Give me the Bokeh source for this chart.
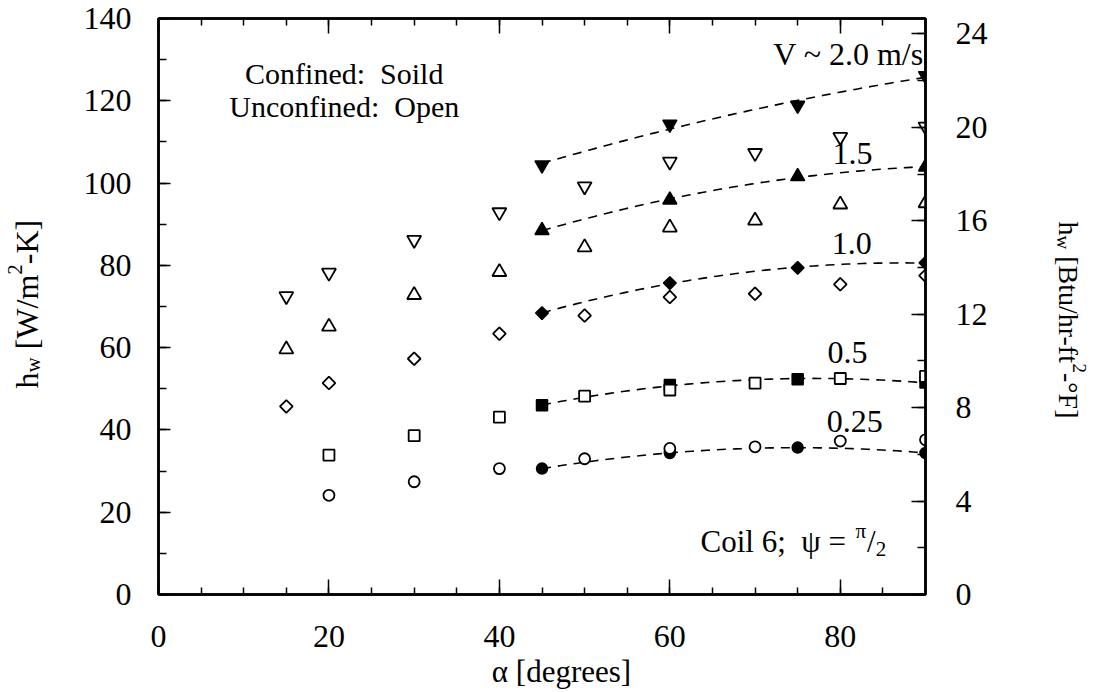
import numpy as np
from bokeh.plotting import figure
from bokeh.models import (Range1d, LinearAxis, Label, SingleIntervalTicker, GridBox,
                          CustomJSTickFormatter)
from bokeh.core.properties import value
from bokeh.embed import file_html
from bokeh.resources import INLINE

# ---- data: inclination angle alpha [deg] and h_w [W/m2-K] ----
alpha_open = [15, 20, 30, 40, 50, 60, 70, 80, 90]
alpha_open_low = [20, 30, 40, 50, 60, 70, 80, 90]
alpha_solid = [45, 60, 75, 90]

# unconfined coil (open symbols)
open_v200 = [72.5, 78.2, 86.2, 92.9, 99.2, 105.2, 107.3, 111.2, 113.7]
open_v150 = [59.6, 65.1, 72.8, 78.4, 84.4, 89.2, 90.9, 94.8, 95.1]
open_v100 = [45.7, 51.4, 57.3, 63.4, 67.8, 72.3, 73.1, 75.4, 77.5]
open_v050 = [33.9, 38.6, 43.1, 48.2, 49.7, 51.4, 52.5, 53.0]
open_v025 = [24.1, 27.4, 30.6, 33.0, 35.5, 35.9, 37.3, 37.6]

# confined coil (solid symbols)
solid_v200 = [104.4, 114.3, 118.9, 126.1]
solid_v150 = [88.5, 95.9, 101.6, 103.9]
solid_v100 = [68.4, 75.7, 79.4, 80.6]
solid_v050 = [46.0, 50.9, 52.3, 51.5]
solid_v025 = [30.6, 34.4, 35.7, 34.4]

velocity_labels = ["V ~ 2.0 m/s", "1.5", "1.0", "0.5", "0.25"]

W_PER_BTU = 5.678  # 1 Btu/hr-ft2-F in W/m2-K

# ---- layout ----
FONT = "Liberation Serif"
NB = "\u00a0"
W, H = 1093, 692
LEFT, RIGHT, TOP, BOTTOM = 158, 925, 18, 594
X0, X1, Y0, Y1 = 0, 90, 0, 140

p = figure(width=W, height=H, x_range=Range1d(X0, X1), y_range=Range1d(Y0, Y1),
           output_backend="svg", toolbar_location=None,
           min_border_left=LEFT, min_border_right=W - RIGHT,
           min_border_top=TOP, min_border_bottom=H - BOTTOM,
           background_fill_color="white", border_fill_color="white")
p.grid.visible = False
p.outline_line_color = "black"
p.outline_line_width = 2.5
p.extra_y_ranges = {"btu": Range1d(Y0 / W_PER_BTU, Y1 / W_PER_BTU)}


def style_axis(ax, major_in, minor_in):
    ax.axis_line_color = "black"
    ax.axis_line_width = 2.5
    ax.major_tick_in = major_in
    ax.major_tick_out = 0
    ax.minor_tick_in = minor_in
    ax.minor_tick_out = 0
    ax.major_tick_line_width = 1.5
    ax.minor_tick_line_width = 1.5
    ax.major_tick_line_color = "black"
    ax.minor_tick_line_color = "black"
    ax.major_label_text_font = FONT
    ax.major_label_text_font_size = "32px"
    ax.major_label_text_color = "black"


xa = p.xaxis[0]
xa.ticker = SingleIntervalTicker(interval=20, num_minor_ticks=4)
style_axis(xa, 15, 7)
xa.major_label_standoff = 31

ya = p.yaxis[0]
ya.ticker = SingleIntervalTicker(interval=20, num_minor_ticks=2)
style_axis(ya, 12, 8)
ya.major_label_standoff = 27

# top edge carries ticks only
top_axis = LinearAxis(ticker=SingleIntervalTicker(interval=20, num_minor_ticks=4),
                      formatter=CustomJSTickFormatter(code="return ''"))
style_axis(top_axis, 15, 7)
top_axis.major_label_text_font_size = "2px"
top_axis.major_label_standoff = 0
p.add_layout(top_axis, "above")

right_axis = LinearAxis(y_range_name="btu",
                        ticker=SingleIntervalTicker(interval=4, num_minor_ticks=2))
style_axis(right_axis, 14, 8)
right_axis.major_label_standoff = 30
p.add_layout(right_axis, "right")

# ---- fitted trend curves through the confined data ----
solid_sets = [solid_v200, solid_v150, solid_v100, solid_v050, solid_v025]
for vals in solid_sets:
    coef = np.polyfit(alpha_solid, vals, 2)
    xs = np.linspace(alpha_solid[0], alpha_solid[-1], 80)
    p.line(xs, np.polyval(coef, xs), line_color="black", line_width=1.6,
           line_dash="9 7")

# ---- symbols ----
markers = [
    ("inverted_triangle", 14, 0.0),
    ("triangle", 14, 0.0),
    ("square", 9, np.pi / 4),
    ("square", 11, 0.0),
    ("circle", 11, 0.0),
]
for (mk, sz, ang), vals in zip(markers, solid_sets):
    p.scatter(alpha_solid, vals, marker=mk, size=sz, angle=ang,
              fill_color="black", line_color="black", line_width=1.5)

open_sets = [(alpha_open, open_v200), (alpha_open, open_v150), (alpha_open, open_v100),
             (alpha_open_low, open_v050), (alpha_open_low, open_v025)]
for (mk, sz, ang), (xs, vals) in zip(markers, open_sets):
    p.scatter(xs, vals, marker=mk, size=sz, angle=ang,
              fill_color="white", line_color="black", line_width=1.8)

# ---- annotations inside the plot ----
p.text(x=[89.8], y=[131.4], text=[velocity_labels[0]], text_align="right",
       text_baseline="alphabetic", text_font=value(FONT),
       text_font_size=value("32px"), text_color="black")
p.text(x=[79.1, 79.0, 78.5, 78.4], y=[107.2, 85.4, 58.7, 42.1],
       text=velocity_labels[1:], text_align="left", text_baseline="alphabetic",
       text_font=value(FONT), text_font_size=value("32px"), text_color="black")

p.text(x=[21.8, 21.8], y=[126.6, 118.6],
       text=["Confined:" + NB + " Soild", "Unconfined:" + NB + " Open"],
       text_align="center", text_baseline="alphabetic", text_font=value(FONT),
       text_font_size=value("30px"), text_color="black")

CHAR_EM = {'h': 0.5, 'w': 0.722, ' ': 0.25, NB: 0.25, '[': 0.333, 'W': 0.944,
           '/': 0.278, 'm': 0.778, '2': 0.5, '-': 0.333, 'K': 0.722, ']': 0.333,
           'B': 0.667, 't': 0.278, 'u': 0.5, 'r': 0.333, 'f': 0.333, '°': 0.4,
           'F': 0.556, 'C': 0.667, 'o': 0.5, 'i': 0.278, 'l': 0.278, '6': 0.5,
           ';': 0.278, 'ψ': 0.686, '=': 0.564, 'π': 0.549}


def text_width(s, size):
    return sum(CHAR_EM.get(c, 0.5) for c in s) * size


def px_to_data(px, py):
    return (X0 + (px - LEFT) * (X1 - X0) / (RIGHT - LEFT),
            Y0 + (BOTTOM - py) * (Y1 - Y0) / (BOTTOM - TOP))


# coil annotation with a raised pi over a lowered 2
cx, cy = 700, 541
for text, size, shift in [("Coil 6;" + NB + " ψ = ", 31, 0), ("π", 21, -11),
                          ("/", 31, 0), ("2", 21, 7)]:
    lx, ly = px_to_data(cx, cy + shift)
    p.add_layout(Label(x=lx, y=ly, text=text, text_font=FONT,
                       text_font_size=f"{size}px", text_color="black",
                       text_align="left", text_baseline="alphabetic"))
    cx += text_width(text, size)

# ---- transparent layer for the axis titles (pixel coordinates) ----
ov = figure(width=W, height=H, x_range=Range1d(0, W), y_range=Range1d(H, 0),
            x_axis_type=None, y_axis_type=None, output_backend="svg",
            toolbar_location=None, min_border=0,
            background_fill_color=None, border_fill_color=None)
ov.outline_line_color = None
ov.grid.visible = False
p.frame_align = False
ov.frame_align = False


def add_run(pieces, start, along, down, angle):
    x, y = start
    for text, size, shift in pieces:
        ov.text(x=[x + down[0] * shift], y=[y + down[1] * shift], text=[text],
                angle=angle, text_font=value(FONT), text_font_size=value(f"{size}px"),
                text_color="black", text_align="left", text_baseline="alphabetic")
        w = text_width(text, size)
        x += along[0] * w
        y += along[1] * w


# left title, reading upwards
add_run([("h", 32, 0), ("w", 21, 6), (NB + "[W/m", 32, 0), ("2", 21, -12), ("-K]", 32, 0)],
        start=(26, 388), along=(0, -1), down=(1, 0), angle=np.pi / 2)

# right title, reading downwards
add_run([("h", 28, 0), ("w", 19, 5), (NB + "[Btu/hr-ft", 28, 0), ("2", 19, -11),
         ("-°F]", 28, 0)],
        start=(1068, 221), along=(0, 1), down=(-1, 0), angle=-np.pi / 2)

# bottom title
ov.text(x=[561], y=[671], text=["α [degrees]"], angle=0, text_font=value(FONT),
        text_font_size=value("31px"), text_color="black", text_align="center",
        text_baseline="alphabetic")

layout = GridBox(children=[(p, 0, 0), (ov, 0, 0)])
open("out.html", "w").write(file_html(layout, INLINE))
